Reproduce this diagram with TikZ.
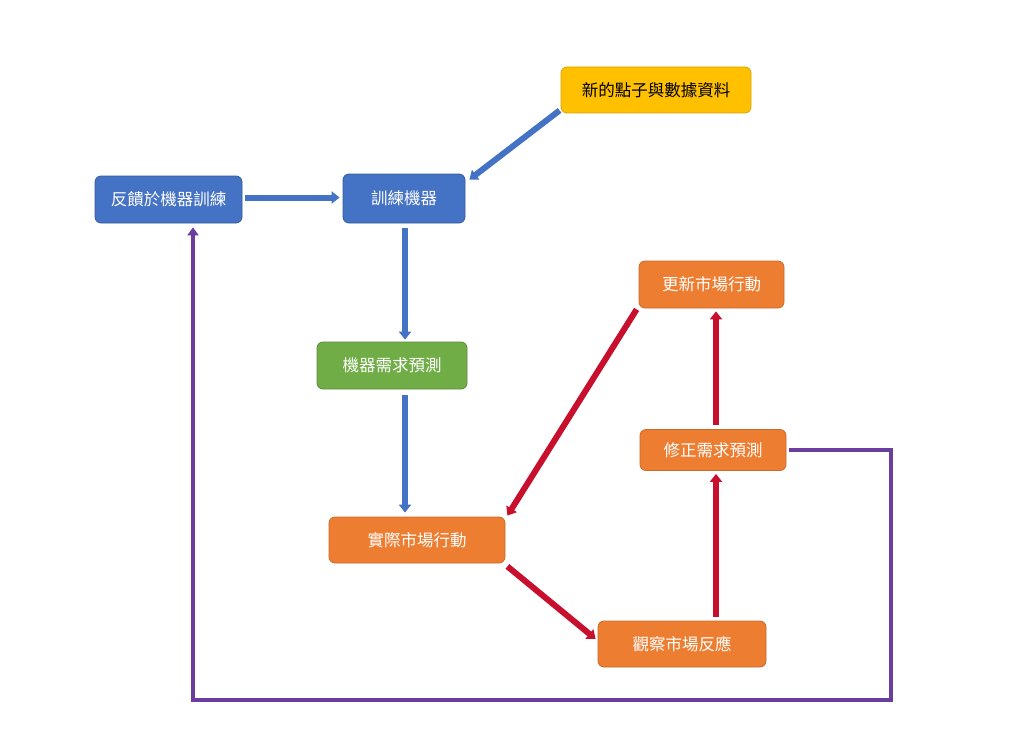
\documentclass[tikz,border=0pt]{standalone}
\usepackage{fontspec}
\setmainfont{Noto Sans CJK TC}
\usetikzlibrary{arrows.meta,calc}
\definecolor{bbox}{HTML}{4472C4}
\definecolor{gbox}{HTML}{70AD47}
\definecolor{obox}{HTML}{ED7D31}
\definecolor{ybox}{HTML}{FFC000}
\definecolor{redline}{HTML}{C8102E}
\definecolor{purpline}{HTML}{6A3D9F}
\tikzset{
  x=1pt,y=-1pt,
  boxst/.style={rounded corners=6pt,minimum height=46pt,inner sep=0pt,text=white,font=\fontsize{16.5}{19}\selectfont},
  bluebox/.style={boxst,fill=bbox,draw=bbox!80!black,line width=0.8pt},
  greenbox/.style={boxst,fill=gbox,draw=gbox!80!black,line width=0.8pt},
  orangebox/.style={boxst,fill=obox,draw=obox!85!black,line width=0.8pt},
  yellowbox/.style={boxst,fill=ybox,draw=ybox!85!black,line width=0.8pt,text=black},
  arr/.style={line width=6pt,-{Triangle[width=12pt,length=8pt]}},
  bluearr/.style={arr,draw=bbox},
  redarr/.style={arr,draw=redline},
  purparr/.style={line width=4.5pt,line join=miter,draw=purpline,-{Triangle[width=11pt,length=8pt]}},
}
\begin{document}
\begin{tikzpicture}
\useasboundingbox (0,0) rectangle (1024,741);
\fill[white] (0,0) rectangle (1024,741);
\node[yellowbox,minimum width=190pt] (new) at (656,90) {新的點子與數據資料};
\node[bluebox,minimum width=147pt,minimum height=47pt] (fb) at (168.5,199.5) {反饋於機器訓練};
\node[bluebox,minimum width=122pt,minimum height=49pt] (train) at (404,198.5) {訓練機器};
\node[greenbox,minimum width=150pt,minimum height=47pt] (pred) at (392,365.5) {機器需求預測};
\node[orangebox,minimum width=176pt] (act) at (417,540) {實際市場行動};
\node[orangebox,minimum width=145pt,minimum height=47pt] (upd) at (711.5,284.5) {更新市場行動};
\node[orangebox,minimum width=146pt,minimum height=41pt] (rev) at (713,450) {修正需求預測};
\node[orangebox,minimum width=168pt] (obs) at (682,644) {觀察市場反應};
\coordinate (c1) at (891,450);
\coordinate (c2) at (891,700);
\coordinate (c3) at (193,700);
\draw[bluearr] ($(new.south west)+(-1,-3)$) -- ($(train.north east)+(4,6)$);
\draw[bluearr] ($(fb.east)+(3,-2)$) -- ($(train.west)+(-3,-1)$);
\draw[bluearr] ($(train.south)+(1,5)$) -- ($(pred.north)+(13,-2)$);
\draw[bluearr] ($(pred.south)+(13,6)$) -- ($(act.north)+(-12,-4)$);
\draw[redarr] ($(upd.south west)+(-2,1)$) -- ($(act.north east)+(2,-1)$);
\draw[redarr] ($(act.south east)+(2,3)$) -- ($(obs.west)+(-2,-5)$);
\draw[redarr] ($(obs.north)+(34,-4)$) -- ($(rev.south)+(3,3)$);
\draw[redarr] ($(rev.north)+(3,-4)$) -- ($(upd.south)+(4.5,3)$);
\draw[purparr] ($(rev.east)+(3,0)$) -- (c1) -- (c2) -- (c3) -- ($(fb.south)+(24.5,4)$);
\end{tikzpicture}
\end{document}
